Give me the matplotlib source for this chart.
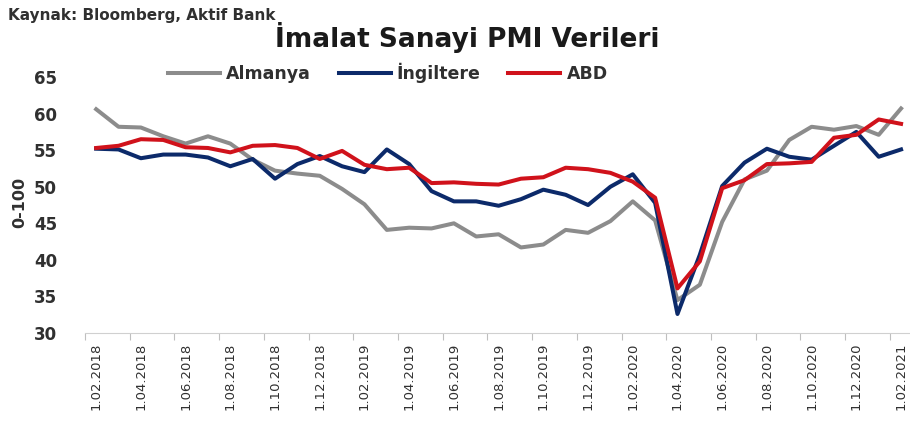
import matplotlib
matplotlib.use("Agg")
import matplotlib.pyplot as plt

# monthly manufacturing PMI, 02.2018 - 02.2021
months = ["02.2018", "03.2018", "04.2018", "05.2018", "06.2018", "07.2018", "08.2018",
          "09.2018", "10.2018", "11.2018", "12.2018", "01.2019", "02.2019", "03.2019",
          "04.2019", "05.2019", "06.2019", "07.2019", "08.2019", "09.2019", "10.2019",
          "11.2019", "12.2019", "01.2020", "02.2020", "03.2020", "04.2020", "05.2020",
          "06.2020", "07.2020", "08.2020", "09.2020", "10.2020", "11.2020", "12.2020",
          "01.2021", "02.2021"]
almanya = [60.6, 58.2, 58.1, 56.9, 55.9, 56.9, 55.9, 53.7, 52.2, 51.8, 51.5, 49.7,
           47.6, 44.1, 44.4, 44.3, 45.0, 43.2, 43.5, 41.7, 42.1, 44.1, 43.7, 45.3,
           48.0, 45.4, 34.5, 36.6, 45.2, 51.0, 52.2, 56.4, 58.2, 57.8, 58.3, 57.1, 60.7]
ingiltere = [55.2, 55.1, 53.9, 54.4, 54.4, 54.0, 52.8, 53.8, 51.1, 53.1, 54.2, 52.8,
             52.0, 55.1, 53.1, 49.4, 48.0, 48.0, 47.4, 48.3, 49.6, 48.9, 47.5, 50.0,
             51.7, 47.8, 32.6, 40.7, 50.1, 53.3, 55.2, 54.1, 53.7, 55.6, 57.5, 54.1, 55.1]
abd = [55.3, 55.6, 56.5, 56.4, 55.4, 55.3, 54.7, 55.6, 55.7, 55.3, 53.8, 54.9,
       53.0, 52.4, 52.6, 50.5, 50.6, 50.4, 50.3, 51.1, 51.3, 52.6, 52.4, 51.9,
       50.7, 48.5, 36.1, 39.8, 49.8, 50.9, 53.1, 53.2, 53.4, 56.7, 57.1, 59.2, 58.6]
yticks = [30, 35, 40, 45, 50, 55, 60, 65]

GRAY, NAVY, RED = "#8c8c8c", "#0c2a6a", "#d0121b"
TXT = "#303030"

fig = plt.figure(figsize=(9.1, 4.21), dpi=100, facecolor="white")
ax = fig.add_axes([0.0934, 0.209, 0.9066, 0.608])

x = list(range(len(months)))
ax.plot(x, almanya, color=GRAY, lw=2.9, label="Almanya", solid_joinstyle="round")
ax.plot(x, ingiltere, color=NAVY, lw=2.9, label="İngiltere", solid_joinstyle="round")
ax.plot(x, abd, color=RED, lw=2.9, label="ABD", solid_joinstyle="round")

ax.set_ylim(30, 65)
ax.set_yticks(yticks)
ax.set_yticklabels([str(v) for v in yticks], fontsize=12, fontweight="bold", color=TXT)
ax.tick_params(axis="y", length=0, pad=20)

ax.set_xlim(-0.5, 36.4)
ax.set_xticks([i - 0.5 for i in x[::2]])
ax.set_xticklabels([])
ax.set_xticks(x[::2], minor=True)
ax.set_xticklabels(["1." + m for m in months[::2]], minor=True, rotation=90,
                   fontsize=9.5, color=TXT)
ax.tick_params(axis="x", which="major", length=5, color="#bfbfbf", direction="out")
ax.tick_params(axis="x", which="minor", length=0, pad=7)

for s in ("top", "right", "left"):
    ax.spines[s].set_visible(False)
ax.spines["bottom"].set_color("#d0d0d0")

fig.text(0.022, 0.52, "0-100", rotation=90, ha="center", va="center",
         fontsize=11.5, fontweight="bold", color=TXT)
fig.text(0.513, 0.912, "İmalat Sanayi PMI Verileri", ha="center", va="center",
         fontsize=19, fontweight="bold", color="#1a1a1a")
fig.text(0.009, 0.962, "Kaynak: Bloomberg, Aktif Bank", ha="left", va="center",
         fontsize=11, fontweight="bold", color=TXT)

fig.legend(loc="center", bbox_to_anchor=(0.426, 0.827), ncol=3, frameon=False,
           handlelength=3.0, handletextpad=0.35, columnspacing=1.6,
           prop={"size": 12.5, "weight": "bold"}, labelcolor=TXT)

fig.savefig("out.png", dpi=100, facecolor="white")
